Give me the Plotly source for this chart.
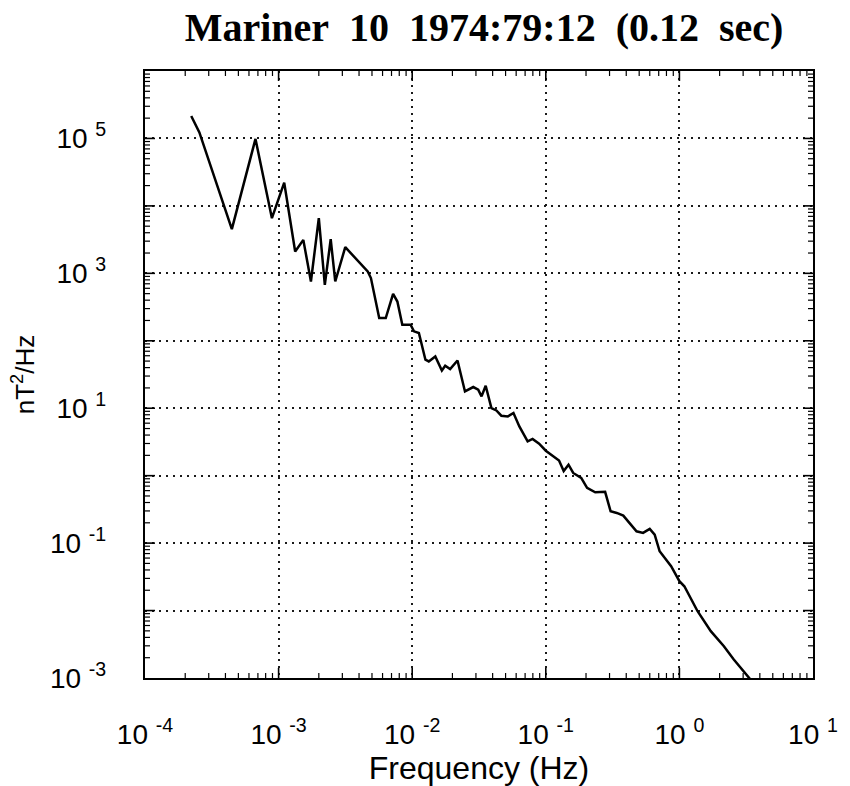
import plotly.graph_objects as go

# Power spectral density of the magnetic field, Mariner 10, 1974 day 79, 12 h
# (values stored as log10 of frequency in Hz and log10 of power in nT^2/Hz)
log_freq = [
    -3.654, -3.593, -3.350, -3.173, -3.050, -2.958, -2.876, -2.815, -2.758, -2.699,
    -2.654, -2.610, -2.576, -2.501, -2.333, -2.309, -2.247, -2.198, -2.143, -2.111,
    -2.074, -2.012, -1.987, -1.950, -1.901, -1.876, -1.827, -1.778, -1.753, -1.716,
    -1.661, -1.605, -1.543, -1.506, -1.481, -1.450, -1.407, -1.370, -1.333, -1.284,
    -1.242, -1.198, -1.136, -1.099, -1.050, -1.000, -0.901, -0.866, -0.830, -0.795,
    -0.735, -0.691, -0.630, -0.556, -0.515, -0.469, -0.420, -0.321, -0.272, -0.222,
    -0.185, -0.148, -0.062, 0.000, 0.037, 0.136, 0.235, 0.333, 0.407, 0.481, 0.531,
]
log_psd = [
    5.333, 5.090, 3.655, 4.993, 3.818, 4.345, 3.323, 3.496, 2.879, 3.818,
    2.830, 3.506, 2.879, 3.388, 3.027, 2.930, 2.336, 2.336, 2.696, 2.582,
    2.237, 2.237, 2.140, 2.115, 1.719, 1.693, 1.767, 1.560, 1.630, 1.580,
    1.708, 1.249, 1.314, 1.274, 1.175, 1.333, 1.003, 0.967, 0.889, 0.879,
    0.929, 0.730, 0.508, 0.544, 0.474, 0.370, 0.225, 0.070, 0.163, 0.040,
    -0.034, -0.180, -0.247, -0.240, -0.528, -0.553, -0.593, -0.825, -0.849, -0.790,
    -0.874, -1.121, -1.343, -1.565, -1.640, -2.010, -2.306, -2.528, -2.726, -2.900, -3.020,
]

freq = [10 ** v for v in log_freq]
psd = [10 ** v for v in log_psd]

# Axis decades and labels (y labels only on odd decades, padded away from the frame)
x_exponents = [-4, -3, -2, -1, 0, 1]
x_tick_text = ["10 <sup>%d</sup>" % e for e in x_exponents]
y_exponents = [-3, -2, -1, 0, 1, 2, 3, 4, 5, 6]
y_tick_text = ["10 <sup>%d</sup>\u00a0\u00a0\u00a0\u00a0" % e if e % 2 else " " for e in y_exponents]

x_major = [10.0 ** e for e in x_exponents]
y_major = [10.0 ** e for e in y_exponents]
x_minor = [m * 10.0 ** d for d in range(-4, 1) for m in range(2, 10)]
y_minor = [m * 10.0 ** d for d in range(-3, 6) for m in range(2, 10)]

SANS = "Liberation Sans, Arial, sans-serif"
MAJOR_LEN, MINOR_LEN = 10, 5


def axis_style(tickvals, tick_text):
    return dict(
        type="log",
        tickmode="array",
        tickvals=tickvals,
        ticktext=tick_text,
        ticks="",
        showline=True,
        linecolor="black",
        linewidth=2,
        mirror=True,
        showgrid=True,
        gridcolor="#1a1a1a",
        gridwidth=1.5,
        griddash="2px,5px",
        zeroline=False,
        tickfont=dict(family=SANS, size=28, color="black"),
    )


def frame_ticks(values, length, width, on_x):
    """Inward tick marks on both opposite frame edges at the given axis values."""
    marks = []
    for v in values:
        for edge, sign in ((0, 1), (1, -1)):
            if on_x:
                marks.append(dict(type="line", xref="x", yref="paper", x0=v, x1=v,
                                  ysizemode="pixel", yanchor=edge, y0=0, y1=sign * length,
                                  line=dict(color="black", width=width)))
            else:
                marks.append(dict(type="line", xref="paper", yref="y", y0=v, y1=v,
                                  xsizemode="pixel", xanchor=edge, x0=0, x1=sign * length,
                                  line=dict(color="black", width=width)))
    return marks


fig = go.Figure()
fig.add_trace(go.Scatter(
    x=freq, y=psd, mode="lines",
    line=dict(color="black", width=2.5),
    showlegend=False,
))

fig.update_xaxes(
    **axis_style(x_major, x_tick_text),
    range=[-4, 1],
    ticklabelstandoff=30,
    title=dict(text="Frequency (Hz)", font=dict(family=SANS, size=32, color="black"), standoff=2),
)
fig.update_yaxes(
    **axis_style(y_major, y_tick_text),
    range=[-3, 6],
    title=dict(text="nT<sup>2</sup>/Hz", font=dict(family=SANS, size=26, color="black"), standoff=8),
)

shapes = (frame_ticks(x_minor, MINOR_LEN, 1.2, True)
          + frame_ticks(x_major[1:-1], MAJOR_LEN, 1.6, True)
          + frame_ticks(y_minor, MINOR_LEN, 1.2, False)
          + frame_ticks(y_major[1:-1], MAJOR_LEN, 1.6, False))

fig.update_layout(
    width=850,
    height=786,
    margin=dict(l=145, r=30, t=71, b=107),
    paper_bgcolor="white",
    plot_bgcolor="white",
    shapes=shapes,
    title=dict(
        text="<b>Mariner\u00a0\u00a010\u00a0\u00a01974:79:12\u00a0\u00a0(0.12\u00a0\u00a0sec)</b>",
        font=dict(family="Liberation Serif, Times New Roman, serif", size=40, color="black"),
        x=484 / 850, xanchor="center", xref="container",
        y=1 - 27 / 786, yanchor="middle", yref="container",
    ),
)

fig.write_html("out.html")
